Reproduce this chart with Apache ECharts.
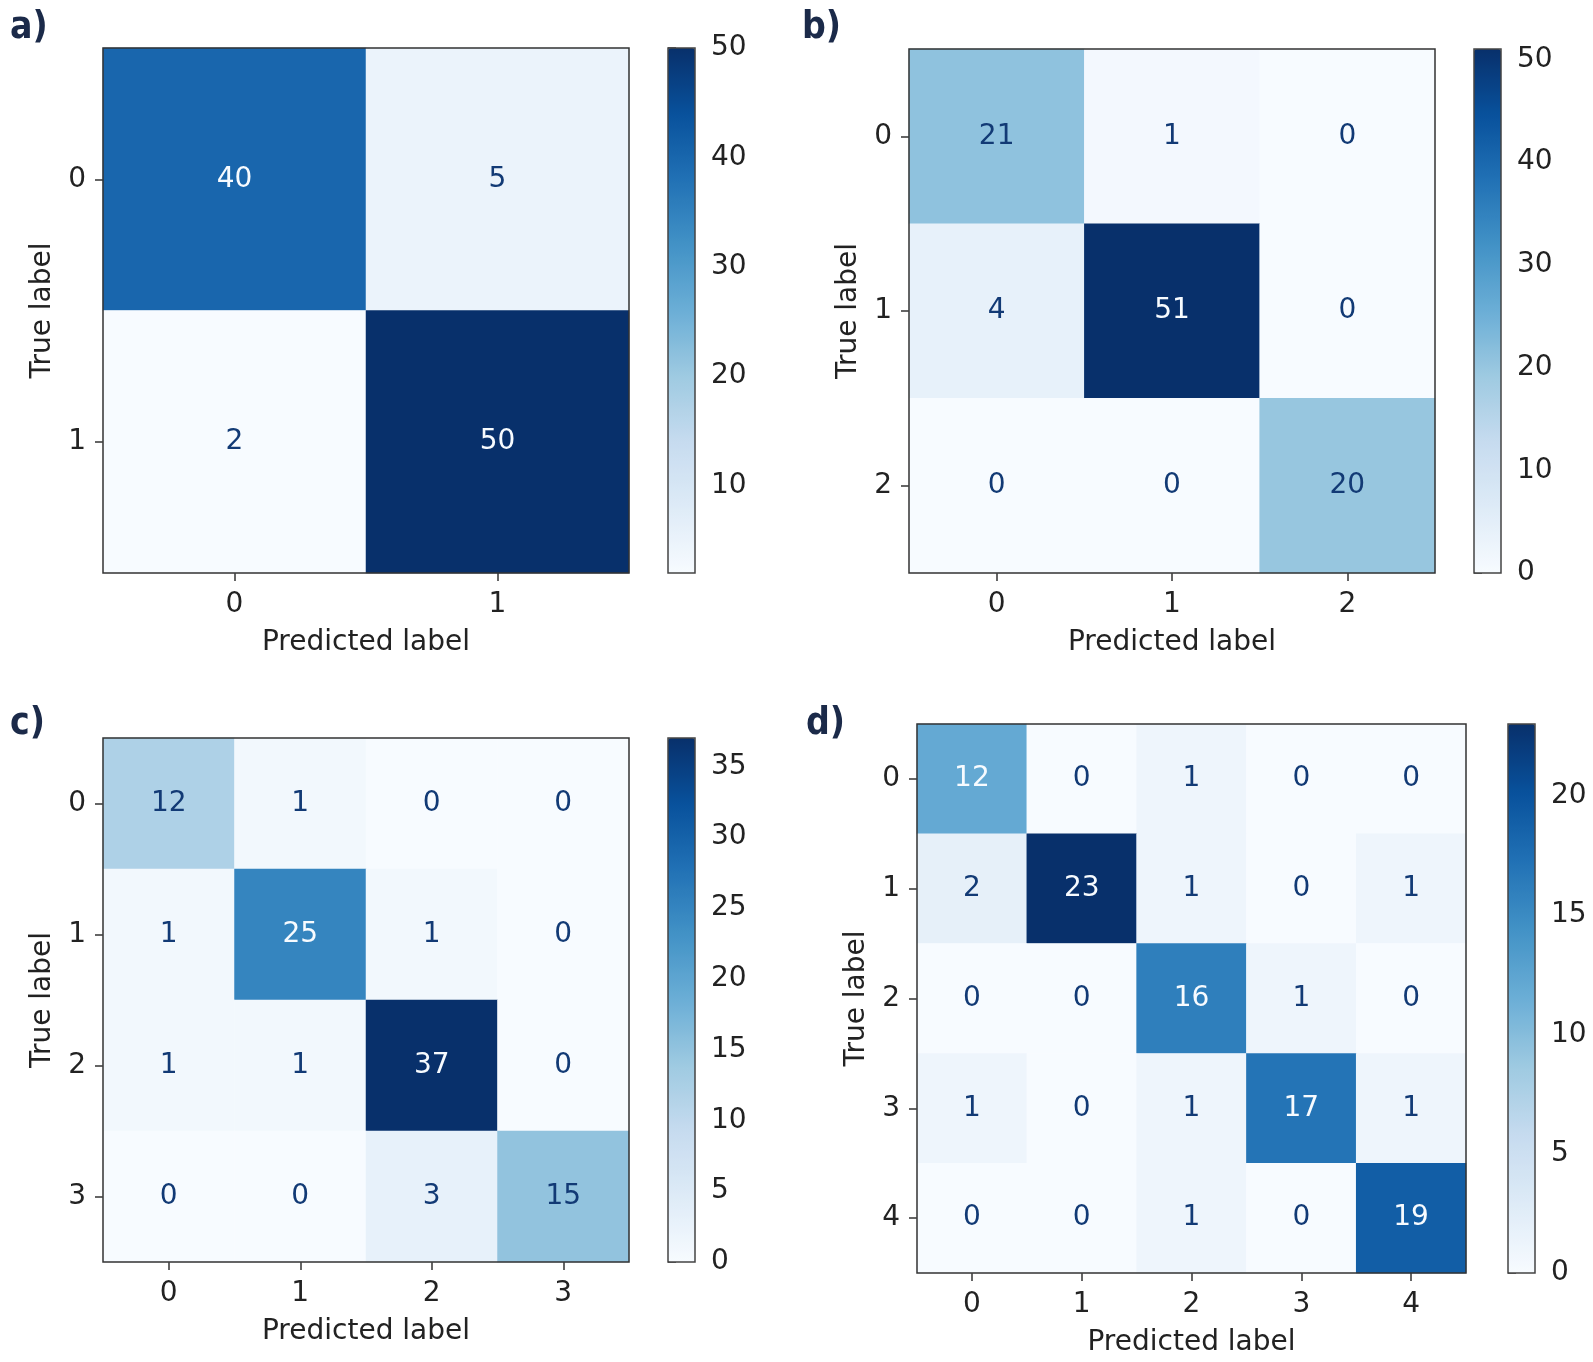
<!DOCTYPE html>
<html><head><meta charset="utf-8">
<script src="https://cdn.jsdelivr.net/npm/echarts@6/dist/echarts.min.js"></script>
<style>html,body{margin:0;padding:0;background:#fff}#c{width:1593px;height:1362px}</style>
</head><body><div id="c"></div><script>
// ---- data ----
const panelNames = ['a)', 'b)', 'c)', 'd)'];
const labelsA = ['0', '1'];
const labelsB = ['0', '1', '2'];
const labelsC = ['0', '1', '2', '3'];
const labelsD = ['0', '1', '2', '3', '4'];
const cmA = [[40, 5], [2, 50]];
const cmB = [[21, 1, 0], [4, 51, 0], [0, 0, 20]];
const cmC = [[12, 1, 0, 0], [1, 25, 1, 0], [1, 1, 37, 0], [0, 0, 3, 15]];
const cmD = [[12, 0, 1, 0, 0], [2, 23, 1, 0, 1], [0, 0, 16, 1, 0], [1, 0, 1, 17, 1], [0, 0, 1, 0, 19]];
const cbarTicksA = [10, 20, 30, 40, 50];
const cbarTicksB = [0, 10, 20, 30, 40, 50];
const cbarTicksC = [0, 5, 10, 15, 20, 25, 30, 35];
const cbarTicksD = [0, 5, 10, 15, 20];
const xAxisTitle = 'Predicted label';
const yAxisTitle = 'True label';
const blues = ['#f7fbff', '#deebf7', '#c6dbef', '#9ecae1', '#6baed6', '#4292c6', '#2171b5', '#08519c', '#08306b'];

// ---- layout ----
const layouts = [
  { title: { left: 5, top: 5 }, grid: { left: 103, top: 48, width: 526, height: 525 }, cbar: { left: 668, top: 48, width: 27, height: 525 } },
  { title: { left: 797, top: 5 }, grid: { left: 909, top: 49, width: 526, height: 524 }, cbar: { left: 1474, top: 49, width: 27, height: 524 } },
  { title: { left: 5, top: 701 }, grid: { left: 103, top: 738, width: 526, height: 524 }, cbar: { left: 668, top: 738, width: 27, height: 524 } },
  { title: { left: 801, top: 701 }, grid: { left: 917, top: 724, width: 549, height: 549 }, cbar: { left: 1508, top: 724, width: 27, height: 549 } }
];
const matrices = [cmA, cmB, cmC, cmD];
const catLabels = [labelsA, labelsB, labelsC, labelsD];
const cbarTicks = [cbarTicksA, cbarTicksB, cbarTicksC, cbarTicksD];

const FONT = 'DejaVu Sans';
const FS = 28;
const TXT = '#222';
const FRAME = '#333';

const option = { animation: false, backgroundColor: '#fff', title: [], grid: [], xAxis: [], yAxis: [], series: [], visualMap: [] };

matrices.forEach((cm, p) => {
  const L = layouts[p];
  let vmin = Infinity, vmax = -Infinity;
  cm.forEach(r => r.forEach(v => { vmin = Math.min(vmin, v); vmax = Math.max(vmax, v); }));
  const thresh = (vmin + vmax) / 2;
  const data = [];
  cm.forEach((row, i) => row.forEach((v, j) => {
    data.push({ value: [j, i, v], label: { color: v > thresh ? '#f7fbff' : '#123a75' } });
  }));

  option.title.push({ text: panelNames[p], left: L.title.left, top: L.title.top,
    textStyle: { fontSize: 37, fontWeight: 'bold', color: '#1b2a49', fontFamily: 'DejaVu Sans Condensed' } });

  const gi = option.grid.length;
  option.grid.push(Object.assign({ show: true, z: 10, borderColor: FRAME, borderWidth: 1.5, backgroundColor: 'transparent' }, L.grid));
  option.xAxis.push({ type: 'category', gridIndex: gi, data: catLabels[p], position: 'bottom',
    name: xAxisTitle, nameLocation: 'middle', nameGap: 56,
    nameTextStyle: { fontSize: FS, fontFamily: FONT, color: TXT },
    axisLine: { show: false }, splitLine: { show: false },
    axisTick: { show: true, alignWithLabel: true, interval: 0, length: 8, lineStyle: { color: FRAME, width: 1.5 } },
    axisLabel: { fontSize: FS, fontFamily: FONT, color: TXT, margin: 18, interval: 0 } });
  option.yAxis.push({ type: 'category', gridIndex: gi, data: catLabels[p], inverse: true, position: 'left',
    name: yAxisTitle, nameLocation: 'middle', nameGap: 46, nameRotate: 90,
    nameTextStyle: { fontSize: FS, fontFamily: FONT, color: TXT },
    axisLine: { show: false }, splitLine: { show: false },
    axisTick: { show: true, alignWithLabel: true, interval: 0, length: 8, lineStyle: { color: FRAME, width: 1.5 } },
    axisLabel: { fontSize: FS, fontFamily: FONT, color: TXT, margin: 17, interval: 0 } });
  const si = option.series.length;
  option.series.push({ type: 'heatmap', xAxisIndex: gi, yAxisIndex: gi, data: data,
    label: { show: true, fontSize: FS, fontFamily: FONT },
    itemStyle: { borderWidth: 0 }, emphasis: { disabled: true } });

  option.visualMap.push({ type: 'continuous', seriesIndex: si, min: vmin, max: vmax,
    calculable: false, hoverLink: false, padding: 0, orient: 'vertical',
    left: L.cbar.left, top: L.cbar.top, itemWidth: L.cbar.width, itemHeight: L.cbar.height,
    inRange: { color: blues }, z: 4 });

  const ci = option.grid.length;
  option.grid.push(Object.assign({ show: true, z: 10, borderColor: '#444', borderWidth: 1.5, backgroundColor: 'transparent' }, L.cbar));
  option.xAxis.push({ type: 'value', gridIndex: ci, show: false, min: 0, max: 1 });
  option.yAxis.push({ type: 'value', gridIndex: ci, min: vmin, max: vmax, position: 'right',
    axisLine: { show: false }, splitLine: { show: false },
    axisTick: { show: true, length: 8, customValues: cbarTicks[p], lineStyle: { color: FRAME, width: 1.5 } },
    axisLabel: { fontSize: FS, fontFamily: FONT, color: TXT, margin: 16, customValues: cbarTicks[p] } });
});

const chart = echarts.init(document.getElementById('c'), null, { renderer: 'canvas' });
chart.setOption(option);
</script></body></html>
